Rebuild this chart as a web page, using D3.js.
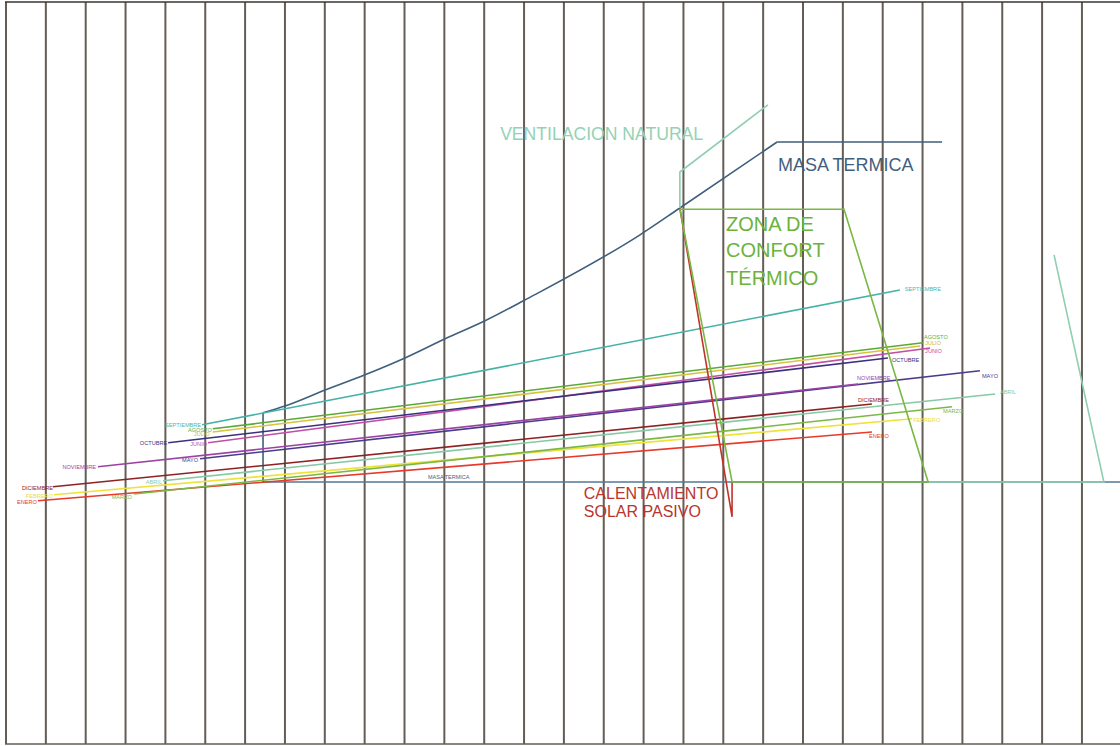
<!DOCTYPE html>
<html>
<head>
<meta charset="utf-8">
<script src="https://cdn.jsdelivr.net/npm/d3@7"></script>
<style>
  html, body { margin: 0; padding: 0; background: #ffffff; }
  svg { display: block; font-family: "Liberation Sans", Arial, sans-serif; }
</style>
</head>
<body>
<svg id="chart" width="1120" height="746"></svg>
<script>
// Diagrama bioclimático: temperatura seca (eje x, °C) y humedad absoluta (eje y, g/kg)

// Rejilla de temperatura (una línea por grado)
const tempTicks = d3.range(0, 28);

// Meses: extremo frío/húmedo (izquierda) y extremo cálido/seco (derecha)
const months   = ["ENERO","FEBRERO","MARZO","ABRIL","MAYO","JUNIO","JULIO","AGOSTO","SEPTIEMBRE","OCTUBRE","NOVIEMBRE","DICIEMBRE"];
const tempLow  = [0.80, 1.20, 3.21, 3.94, 4.87, 5.07, 5.19, 5.19, 4.92, 4.07, 2.31, 1.18];
const humLow   = [6.13, 6.28, 6.30, 6.63, 7.18, 7.58, 7.85, 7.93, 8.03, 7.58, 6.98, 6.48];
const tempHigh = [21.73, 22.74, 23.74, 24.82, 24.44, 23.19, 22.94, 23.01, 22.43, 22.13, 21.38, 21.73];
const humHigh  = [7.85, 8.18, 8.48, 8.80, 9.38, 9.95, 10.00, 10.08, 11.40, 9.70, 9.05, 8.55];

// Masa térmica: lado izquierdo, límite curvo superior y base
const masaSideTemp = [6.45, 6.45];
const masaSideHum  = [6.60, 8.33];
const masaTemp = [6.45, 7.00, 8.01, 9.01, 10.01, 11.02, 12.02, 13.02, 15.91, 16.91, 19.35];
const masaHum  = [8.33, 8.50, 8.90, 9.28, 9.70, 10.18, 10.63, 11.15, 12.78, 13.45, 15.10];
const masaTopTemp = [19.35, 23.49];
const masaTopHum  = [15.10, 15.10];
const masaBaseTemp = [6.45, 28.0];
const masaBaseHum  = [6.60, 6.60];

// Ventilación natural
const ventTemp = [16.91, 16.91, 19.12];
const ventHum  = [13.45, 14.35, 16.03];
const ventRightTemp = [26.30, 27.55, 23.14];
const ventRightHum  = [12.28, 6.60, 6.60];

// Zona de confort térmico
const confTemp = [16.91, 21.03, 23.14, 18.22, 16.91];
const confHum  = [13.42, 13.42, 6.60, 6.60, 13.42];

// Calentamiento solar pasivo
const solarTemp = [16.91, 18.22, 18.22];
const solarHum  = [13.45, 5.73, 6.60];

// Estilos
const monthColor = {
  ENERO: "#e8392a", FEBRERO: "#eee23c", MARZO: "#7cb845", ABRIL: "#86c9a4",
  MAYO: "#4a3b8e", JUNIO: "#c24ea6", JULIO: "#d8c243", AGOSTO: "#5aa934",
  SEPTIEMBRE: "#45b2a6", OCTUBRE: "#3b2f7e", NOVIEMBRE: "#9b43a3", DICIEMBRE: "#8e2222"
};
const labelColor = {
  ENERO: "#e0402e", FEBRERO: "#e8dc40", MARZO: "#7cb845", ABRIL: "#8acaa6",
  MAYO: "#4a3b8e", JUNIO: "#c24ea6", JULIO: "#d2b83a", AGOSTO: "#62ad3a",
  SEPTIEMBRE: "#4fb5a9", OCTUBRE: "#3b2f7e", NOVIEMBRE: "#9b43a3", DICIEMBRE: "#8e2222"
};
// desplazamientos de etiqueta en píxeles: [dxIzq, dyIzq, dxDer, dyDer]
const labelNudge = {
  ENERO: [0,1,-5,4], FEBRERO: [0,1,-1,1], MARZO: [-1,3,-11,4], ABRIL: [0,1,3,-2],
  MAYO: [-1,1,0,5], JUNIO: [0,1,-7,3], JULIO: [-2,2,3,-3], AGOSTO: [0,1,-1,-6],
  SEPTIEMBRE: [0,0,3,-1], OCTUBRE: [0,0,2,2], NOVIEMBRE: [-1,0,-3,-6], DICIEMBRE: [1,1,-16,-4]
};

const W = 1120, H = 746;
const x = d3.scaleLinear().domain([0, 28]).range([6, 6 + 39.85 * 28]);
const y = d3.scaleLinear().domain([0, 18.65]).range([H, 0]);

const svg = d3.select("#chart");
svg.append("rect").attr("width", W).attr("height", H).attr("fill", "#fff");

// rejilla
const grid = svg.append("g");
grid.selectAll("line.v").data(tempTicks).join("line")
  .attr("class", "v")
  .attr("x1", d => x(d)).attr("x2", d => x(d))
  .attr("y1", 2).attr("y2", H - 2)
  .attr("stroke", "#645d56").attr("stroke-width", 2);
grid.append("line").attr("x1", x(0) - 1).attr("x2", W).attr("y1", 2).attr("y2", 2)
  .attr("stroke", "#3a3633").attr("stroke-width", 1.5);
grid.append("line").attr("x1", x(0) - 1).attr("x2", W).attr("y1", H - 2).attr("y2", H - 2)
  .attr("stroke", "#645d56").attr("stroke-width", 1.5);

const line = d3.line().x(d => x(d[0])).y(d => y(d[1]));
const curve = d3.line().x(d => x(d[0])).y(d => y(d[1])).curve(d3.curveMonotoneX);
const pairs = (a, b) => a.map((v, i) => [v, b[i]]);

// masa térmica
const masaStroke = { color: "#3f5f7c", width: 1.6 };
svg.append("path").datum(pairs(masaBaseTemp, masaBaseHum))
  .attr("d", line).attr("fill", "none").attr("stroke", "#557896").attr("stroke-width", 1.6);
[[pairs(masaSideTemp, masaSideHum), line], [pairs(masaTemp, masaHum), curve], [pairs(masaTopTemp, masaTopHum), line]]
  .forEach(([p, gen]) => {
    svg.append("path").datum(p).attr("d", gen)
      .attr("fill", "none").attr("stroke", masaStroke.color).attr("stroke-width", masaStroke.width);
  });

// ventilación natural
[pairs(ventTemp, ventHum), pairs(ventRightTemp, ventRightHum)].forEach(p => {
  svg.append("path").datum(p).attr("d", line)
    .attr("fill", "none").attr("stroke", "#8fceb0").attr("stroke-width", 1.6);
});

// meses
const monthG = svg.append("g");
months.forEach((m, i) => {
  const p0 = [tempLow[i], humLow[i]], p1 = [tempHigh[i], humHigh[i]];
  monthG.append("path").datum([p0, p1]).attr("d", line)
    .attr("fill", "none").attr("stroke", monthColor[m]).attr("stroke-width", 1.6);
  const n = labelNudge[m];
  monthG.append("text")
    .attr("x", x(p0[0]) - 1 + n[0]).attr("y", y(p0[1]) + 2 + n[1])
    .attr("text-anchor", "end").attr("font-size", 5.6)
    .attr("fill", labelColor[m]).text(m);
  monthG.append("text")
    .attr("x", x(p1[0]) + 2 + n[2]).attr("y", y(p1[1]) + 2 + n[3])
    .attr("text-anchor", "start").attr("font-size", 5.6)
    .attr("fill", labelColor[m]).text(m);
});

// calentamiento solar pasivo
svg.append("path").datum(pairs(solarTemp, solarHum)).attr("d", line)
  .attr("fill", "none").attr("stroke", "#c0332b").attr("stroke-width", 1.6);

// zona de confort
svg.append("path").datum(pairs(confTemp, confHum)).attr("d", line)
  .attr("fill", "none").attr("stroke", "#78b843").attr("stroke-width", 1.6);

// rótulos
const notes = [
  { t: 12.40, h: 15.15, size: 17.6, color: "#93d2b4", text: "VENTILACION NATURAL" },
  { t: 19.37, h: 14.375, size: 18, color: "#3f5f7f", text: "MASA TERMICA" },
  { t: 18.07, h: 12.875, size: 20, color: "#6cb33c", text: "ZONA DE" },
  { t: 18.07, h: 12.225, size: 20, color: "#6cb33c", text: "CONFORT" },
  { t: 18.07, h: 11.525, size: 20, color: "#6cb33c", text: "TÉRMICO" },
  { t: 14.50, h: 6.175, size: 16,  color: "#b9352d", text: "CALENTAMIENTO" },
  { t: 14.50, h: 5.725, size: 16,  color: "#b9352d", text: "SOLAR PASIVO" },
  { t: 10.59, h: 6.675, size: 5.5, color: "#3f5f7f", text: "MASA TERMICA" }
];
svg.append("g").selectAll("text").data(notes).join("text")
  .attr("x", d => x(d.t)).attr("y", d => y(d.h))
  .attr("font-size", d => d.size).attr("fill", d => d.color)
  .text(d => d.text);
</script>
</body>
</html>
